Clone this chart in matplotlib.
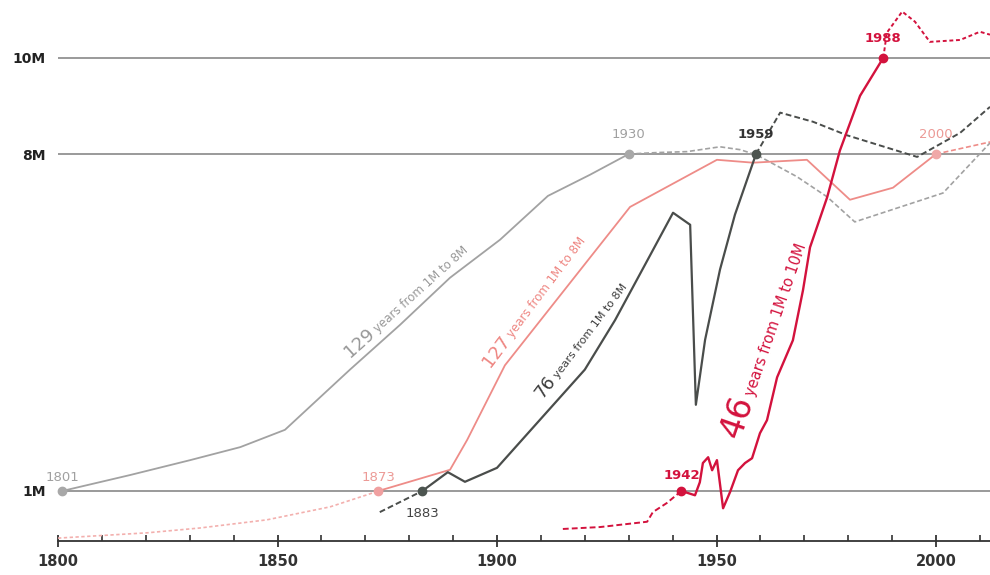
import numpy as np
import matplotlib
matplotlib.use("Agg")
import matplotlib.pyplot as plt

OUT_PATH = "out.png"

# population in millions
LONDON_YEARS = [1801, 1816.4, 1830.1, 1841.5, 1851.7, 1866.5, 1877.9, 1889.3, 1900.7, 1911.6, 1921.2, 1930]
LONDON_POP = [1.0, 1.33, 1.64, 1.91, 2.27, 3.52, 4.45, 5.43, 6.22, 7.13, 7.57, 8.0]
LONDON_LATER_YEARS = [1930, 1936.4, 1943.3, 1950.8, 1955.4, 1959.2, 1968.3, 1975.2, 1981.5, 2001.6, 2012.3]
LONDON_LATER_POP = [8.0, 8.03, 8.05, 8.15, 8.09, 7.98, 7.53, 7.11, 6.59, 7.19, 8.23]

NY_EARLY_YEARS = [1800, 1820.3, 1832.3, 1847.6, 1862.0, 1870.4, 1873]
NY_EARLY_POP = [0.02, 0.13, 0.23, 0.40, 0.67, 0.92, 1.0]
NY_YEARS = [1873, 1889.3, 1893.2, 1901.8, 1930.3, 1950.1, 1958.3, 1970.6, 1980.4, 1990.2, 2000]
NY_POP = [1.0, 1.44, 2.06, 3.61, 6.90, 7.88, 7.82, 7.88, 7.05, 7.30, 8.0]
NY_LATER_YEARS = [2000, 2012.3]
NY_LATER_POP = [8.0, 8.25]

TOKYO_EARLY_YEARS = [1873.3, 1883]
TOKYO_EARLY_POP = [0.56, 1.0]
TOKYO_YEARS = [1883, 1888.8, 1892.7, 1900.0, 1909.8, 1920.0, 1926.9, 1934.9, 1940.1, 1944.0, 1945.3, 1947.4, 1950.8, 1954.2, 1959]
TOKYO_POP = [1.0, 1.39, 1.19, 1.48, 2.48, 3.52, 4.55, 5.90, 6.78, 6.53, 2.79, 4.14, 5.60, 6.74, 8.0]
TOKYO_LATER_YEARS = [1959, 1964.5, 1972.0, 1979.7, 1995.7, 2005.5, 2012.3]
TOKYO_LATER_POP = [8.0, 8.86, 8.67, 8.39, 7.94, 8.44, 8.98]

SEOUL_EARLY_YEARS = [1915.0, 1923.5, 1934.2, 1935.5, 1938.7, 1942]
SEOUL_EARLY_POP = [0.21, 0.25, 0.36, 0.56, 0.75, 1.0]
SEOUL_YEARS = [1942, 1945.1, 1946.2, 1946.9, 1948.1, 1949.0, 1950.1, 1951.5, 1953.1, 1954.9, 1956.5,
               1958.1, 1959.9, 1961.5, 1963.8, 1967.4, 1969.7, 1971.3, 1975.2, 1978.1, 1982.7, 1988]
SEOUL_POP = [1.0, 0.91, 1.18, 1.58, 1.70, 1.43, 1.64, 0.64, 0.98, 1.43, 1.58,
             1.68, 2.2, 2.47, 3.36, 4.13, 5.17, 6.06, 7.1, 8.07, 9.21, 10.0]
SEOUL_LATER_YEARS = [1988, 1988.8, 1992.3, 1995.2, 1998.6, 2005.5, 2010, 2012.3]
SEOUL_LATER_POP = [10.0, 10.52, 10.96, 10.75, 10.33, 10.37, 10.54, 10.48]

GRID_VALUES = [1, 8, 10]
GRID_LABELS = ["1M", "8M", "10M"]
X_MAJOR = [1800, 1850, 1900, 1950, 2000]

GRAY = "#a2a2a2"
PINK = "#ee8c88"
PINK_LIGHT = "#f3b0ae"
DARK = "#4a4d4b"
RED = "#d3123d"


def rotated_label(fig, ax, x, y, big, small, angle, color, big_size, small_size):
    renderer = fig.canvas.get_renderer()
    t = ax.text(x, y, big, color=color, fontsize=big_size, ha="left", va="baseline",
                rotation_mode="anchor", zorder=6)
    w = t.get_window_extent(renderer).width
    t.set_rotation(angle)
    gap = w + 3
    a = np.deg2rad(angle)
    off = (gap * np.cos(a) * 72 / fig.dpi, gap * np.sin(a) * 72 / fig.dpi)
    ax.annotate(small, (x, y), xytext=off, textcoords="offset points", rotation=angle,
                rotation_mode="anchor", ha="left", va="baseline", color=color,
                fontsize=small_size, zorder=6)


def year_label(ax, x, y, text, color, dy, bold=False):
    ax.annotate(text, (x, y), xytext=(0, dy), textcoords="offset points", ha="center",
                va="center", color=color, fontsize=9.5,
                fontweight="bold" if bold else "normal", zorder=7)


def main():
    fig = plt.figure(figsize=(9.9, 5.75), dpi=100)
    ax = fig.add_axes([58 / 990, 34 / 575, 1 - 58 / 990, 1 - 34 / 575])
    ax.set_xlim(1800, 2012.3)
    ax.set_ylim(-0.04, 11.2)

    for v in GRID_VALUES:
        ax.axhline(v, color="#9a9a9a", lw=1.4, zorder=1)

    dash = (0, (3, 1.6))

    # London
    ax.plot(LONDON_LATER_YEARS, LONDON_LATER_POP, color=GRAY, lw=1.2, ls=dash, zorder=2)
    ax.plot(LONDON_YEARS, LONDON_POP, color=GRAY, lw=1.3, zorder=3)
    # New York
    ax.plot(NY_EARLY_YEARS, NY_EARLY_POP, color=PINK_LIGHT, lw=1.2, ls=(0, (2, 1.5)), zorder=2)
    ax.plot(NY_LATER_YEARS, NY_LATER_POP, color=PINK, lw=1.2, ls=dash, zorder=2)
    ax.plot(NY_YEARS, NY_POP, color=PINK, lw=1.3, zorder=3)
    # Tokyo
    ax.plot(TOKYO_EARLY_YEARS, TOKYO_EARLY_POP, color=DARK, lw=1.4, ls=dash, zorder=2)
    ax.plot(TOKYO_LATER_YEARS, TOKYO_LATER_POP, color=DARK, lw=1.4, ls=dash, zorder=2)
    ax.plot(TOKYO_YEARS, TOKYO_POP, color=DARK, lw=1.6, zorder=4)
    # Seoul
    ax.plot(SEOUL_EARLY_YEARS, SEOUL_EARLY_POP, color=RED, lw=1.4, ls=dash, zorder=2)
    ax.plot(SEOUL_LATER_YEARS, SEOUL_LATER_POP, color=RED, lw=1.4, ls=(0, (2, 1.4)), zorder=2)
    ax.plot(SEOUL_YEARS, SEOUL_POP, color=RED, lw=1.7, zorder=5)

    # milestone markers
    marks = [
        (LONDON_YEARS[0], LONDON_POP[0], "#a8a8a8"),
        (LONDON_YEARS[-1], LONDON_POP[-1], "#a8a8a8"),
        (NY_YEARS[0], NY_POP[0], "#f0a0a0"),
        (NY_YEARS[-1], NY_POP[-1], "#f0a8a8"),
        (TOKYO_YEARS[0], TOKYO_POP[0], "#4d5550"),
        (TOKYO_YEARS[-1], TOKYO_POP[-1], "#4d5550"),
        (SEOUL_YEARS[0], SEOUL_POP[0], RED),
        (SEOUL_YEARS[-1], SEOUL_POP[-1], RED),
    ]
    for x, y, c in marks:
        ax.plot([x], [y], "o", color=c, ms=6, zorder=8, clip_on=False)

    year_label(ax, LONDON_YEARS[0], LONDON_POP[0], "1801", "#a0a0a0", 10)
    year_label(ax, LONDON_YEARS[-1], LONDON_POP[-1], "1930", "#a0a0a0", 14)
    year_label(ax, NY_YEARS[0], NY_POP[0], "1873", "#ec9a96", 10)
    year_label(ax, NY_YEARS[-1], NY_POP[-1], "2000", "#ec9a96", 14)
    year_label(ax, TOKYO_YEARS[0], TOKYO_POP[0], "1883", "#444444", -16)
    year_label(ax, TOKYO_YEARS[-1], TOKYO_POP[-1], "1959", "#333333", 14, bold=True)
    year_label(ax, SEOUL_YEARS[0], SEOUL_POP[0], "1942", RED, 11, bold=True)
    year_label(ax, SEOUL_YEARS[-1], SEOUL_POP[-1], "1988", RED, 14, bold=True)

    rotated_label(fig, ax, 1866.5, 3.76, "129", "years from 1M to 8M", 42, "#999999", 13, 8.5)
    rotated_label(fig, ax, 1898.4, 3.55, "127", "years from 1M to 8M", 53, "#ee8682", 13, 8.5)
    rotated_label(fig, ax, 1910.4, 2.9, "76", "years from 1M to 8M", 53, "#3d3d3d", 13, 8)
    rotated_label(fig, ax, 1955.2, 2.06, "46", "years from 1M to 10M", 71, RED, 24, 10.5)

    for side in ["top", "right", "left"]:
        ax.spines[side].set_visible(False)
    ax.spines["bottom"].set_color("#333333")
    ax.spines["bottom"].set_linewidth(1.3)

    ax.set_xticks(X_MAJOR)
    ax.set_xticklabels([str(x) for x in X_MAJOR], fontsize=10.5, fontweight="bold", color="#333333")
    ax.set_xticks(np.arange(1800, 2013, 10), minor=True)
    ax.tick_params(axis="x", which="major", direction="inout", length=8, width=1.3, color="#333333", pad=5)
    ax.tick_params(axis="x", which="minor", direction="in", length=4, width=1.2, color="#333333")

    ax.set_yticks(GRID_VALUES)
    ax.set_yticklabels(GRID_LABELS, fontsize=10, fontweight="bold", color="#222222")
    ax.tick_params(axis="y", length=0, pad=9)

    fig.savefig(OUT_PATH, dpi=100)


if __name__ == "__main__":
    main()
